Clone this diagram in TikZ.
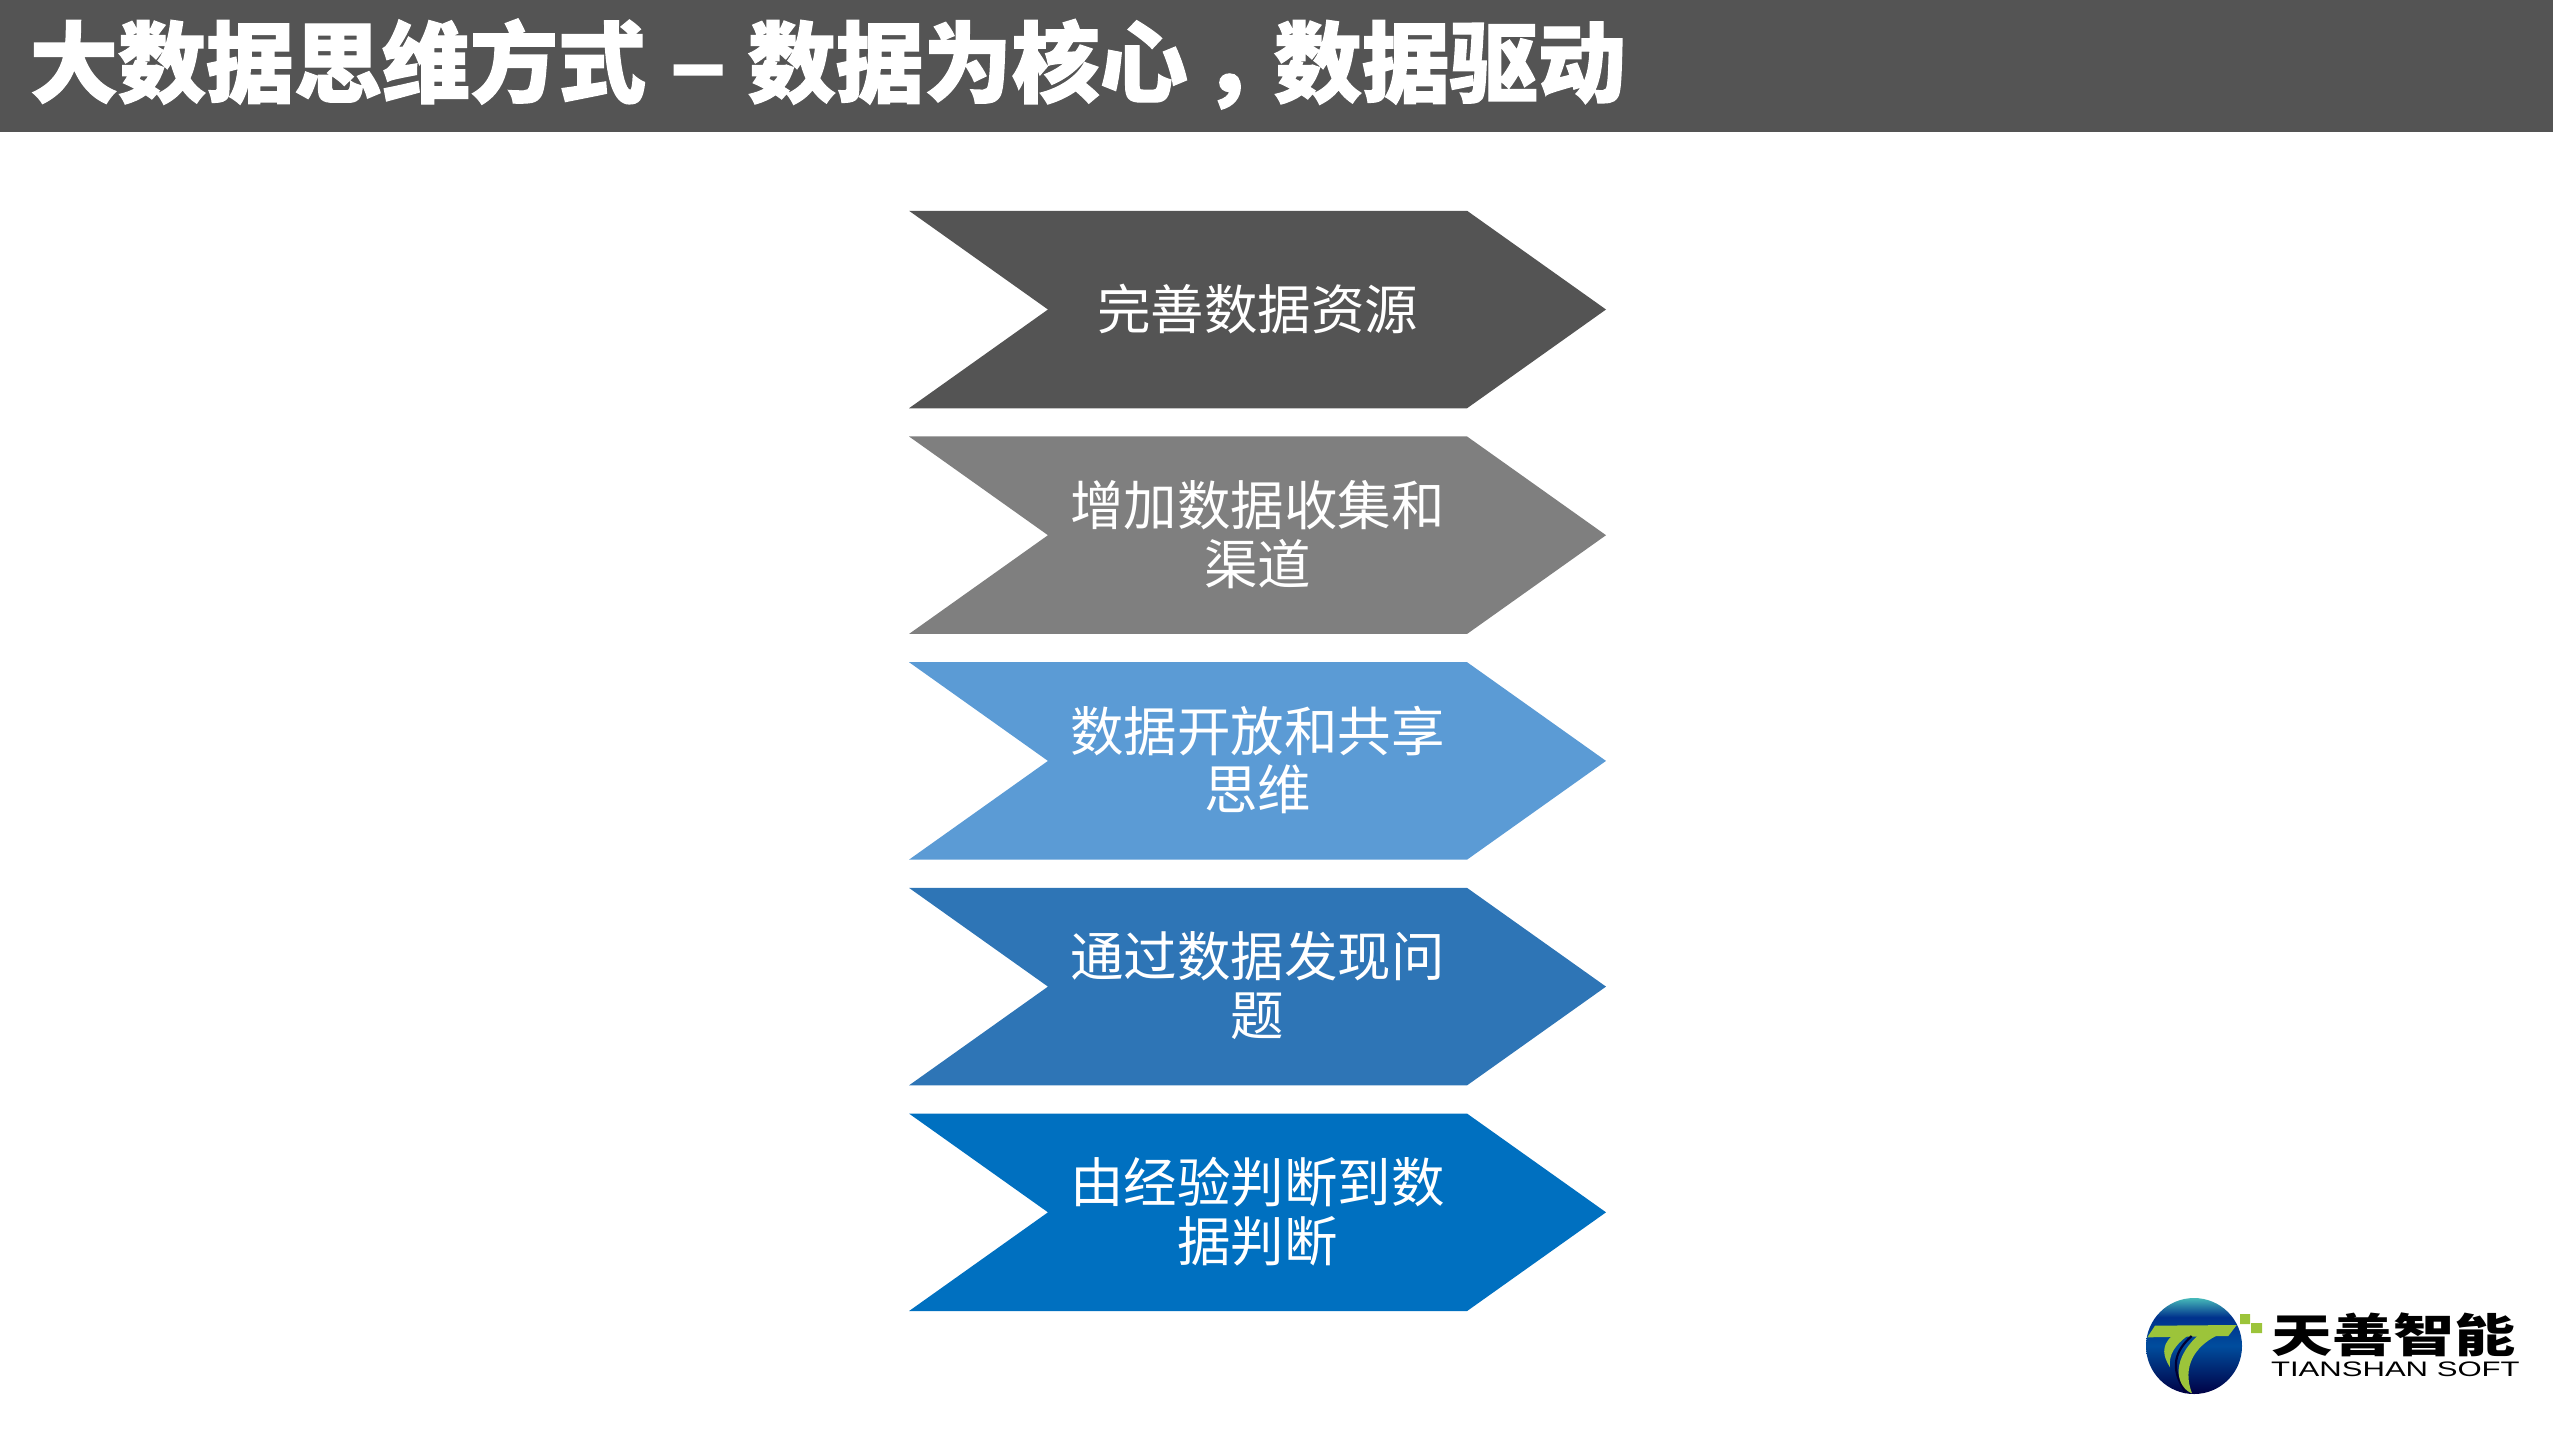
\documentclass[tikz,border=0pt]{standalone}
\usepackage{fontspec}
\setmainfont{Noto Sans CJK SC}
\newfontfamily\heavyfont[BoldFeatures={FakeBold=1.5}]{Noto Sans CJK SC}
\newfontfamily\logolatin{Liberation Sans}
\usetikzlibrary{positioning,shapes.symbols}
\definecolor{barGray}{HTML}{545454}
\definecolor{stepGray}{HTML}{7F7F7F}
\definecolor{stepSky}{HTML}{5B9BD5}
\definecolor{stepSteel}{HTML}{2E75B6}
\definecolor{stepBlue}{HTML}{0070C0}
\definecolor{logoLeaf}{HTML}{9CC43A}
\pgfdeclareverticalshading{globeshade}{100bp}{
	color(0bp)=(black!10!blue!30!black);
	color(25bp)=(black!10!blue!30!black);
	color(50bp)=(blue!45!black!70!cyan);
	color(65bp)=(cyan!35!blue!55!black);
	color(75bp)=(cyan!45!gray);
	color(100bp)=(gray!60!green!40!white)}

\begin{document}
\begin{tikzpicture}[
					x=1pt, y=-1pt,
					every node/.style={inner sep=0pt, outer sep=0pt},
					chevron/.style={
						signal, signal from=west, signal to=east,
						signal pointer angle=70.8,
						minimum width=697pt, minimum height=197.5pt,
						align=center, text=white, text depth=6pt,
						font=\fontsize{53.5}{58.6}\selectfont
					}
					]
					\useasboundingbox (0,0) rectangle (2553,1436);

					% Title bar
					\node[fill=barGray, minimum width=2553pt, minimum height=132pt, anchor=north west] (bar) at (0,0) {};
					\node[text=white, anchor=west, font=\heavyfont\fontsize{88}{88}\bfseries] (title) at (30,64) {大数据思维方式\hspace{3pt} \scalebox{1.2}[1]{–}\hspace{0.5pt} 数据为核心\hspace{15pt}，\hspace{-17pt}数据驱动};

					% Five chevrons
					\node[chevron, fill=barGray] (res) at (1257.5,309.5) {完善数据资源};
					\node[chevron, fill=stepGray, below=28.2pt of res] (chan) {增加数据收集和\\渠道};
					\node[chevron, fill=stepSky, below=28.2pt of chan] (share) {数据开放和共享\\思维};
					\node[chevron, fill=stepSteel, below=28.2pt of share] (issue) {通过数据发现问\\题};
					\node[chevron, fill=stepBlue, below=28.2pt of issue] (judge) {由经验判断到数\\据判断};

					% Logo
					\shade[shading=globeshade] (2194,1346) circle (48);
					\fill[logoLeaf] (2240,1314) rectangle (2250,1324) (2251,1323) rectangle (2262,1333);
					\begin{scope}[shift={(2100,1260)}, x=0.3333pt, y=-0.3333pt]
						\fill[logoLeaf] (165,197) -- (410,195) -- (385,228) -- (142,232) -- cycle;
						\fill[logoLeaf] (215,228) -- (262,228) .. controls (225,255) and (205,285) .. (210,322) .. controls (190,290) and (182,260) .. (215,228) -- cycle;
						\draw[black!80!blue, line width=2.2pt] (275,228) .. controls (228,270) and (205,320) .. (258,398);
						\fill[logoLeaf] (292,228) -- (348,228) .. controls (285,260) and (245,320) .. (276,400) .. controls (235,385) and (205,310) .. (292,228) -- cycle;
					\end{scope}
					\node[anchor=west, text=black, font=\fontsize{46}{46}\bfseries] (brand) at (2271,1335) {\scalebox{1.33}[1]{天善智能}};
					\node[anchor=west, text=black, font=\logolatin\fontsize{21}{21}\selectfont] (brandlatin) at (2271,1369.5) {\scalebox{1.48}[1]{TIANSHAN SOFT}};
				\end{tikzpicture}
\end{document}
